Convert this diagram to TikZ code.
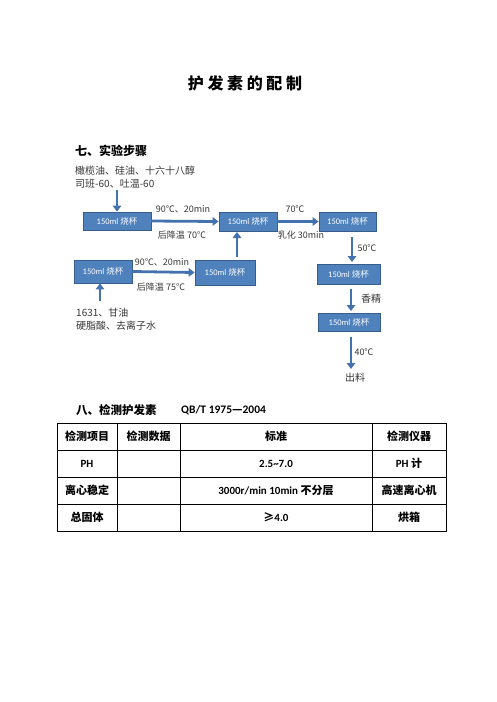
\documentclass[tikz,border=0pt]{standalone}
\usepackage{fontspec}
\setmainfont{Noto Sans CJK SC}
\newfontfamily\lat{Carlito}
\usetikzlibrary{arrows.meta}
\definecolor{boxfill}{RGB}{79,129,189}
\definecolor{boxedge}{RGB}{56,93,138}
\definecolor{arr}{RGB}{68,114,175}
\definecolor{txt}{RGB}{55,55,55}
\begin{document}
\begin{tikzpicture}[x=1pt,y=-1pt,
  beaker/.style={draw=boxedge, fill=boxfill, line width=0.8pt, text=white,
    font=\fontsize{8.5}{10}\selectfont, inner sep=0pt},
  flow/.style={draw=arr, line width=2.8pt, -{Triangle[length=6pt,width=8.5pt]}},
  lbl/.style={font=\fontsize{9}{11}\selectfont, text=txt, inner sep=0pt},
  note/.style={font=\fontsize{10}{12}\selectfont, text=txt, inner sep=0pt, anchor=west},
  head/.style={font=\fontsize{11.5}{13}\selectfont\bfseries, inner sep=0pt},
  cell/.style={font=\fontsize{11}{13}\selectfont\bfseries, inner sep=0pt},
  grid/.style={line width=0.8pt, draw=black}]
\useasboundingbox (0,0) rectangle (496,702);
\fill[white] (0,0) rectangle (496,702);

% title
\node[inner sep=0pt, font=\fontsize{16}{18}\selectfont\bfseries] (title) at (245,83) {护 发 素 的 配 制};

% section 7
\node[head, anchor=west, font=\fontsize{12}{14}\selectfont\bfseries] (s7) at (75,151) {七、实验步骤};
\node[note] (in1a) at (75,171) {橄榄油、硅油、十六十八醇};
\node[note] (in1b) at (75,184) {司班-60、吐温-60};
\coordinate (a1) at (117,190);

\node[beaker, minimum width=68pt, minimum height=18pt] (b1) at (117,221) {{\lat 150ml} 烧杯};
\node[beaker, minimum width=58pt, minimum height=19pt] (b2) at (248,221.5) {{\lat 150ml} 烧杯};
\node[beaker, minimum width=57pt, minimum height=19pt] (b3) at (347.5,221.5) {{\lat 150ml} 烧杯};
\node[beaker, minimum width=63pt, minimum height=20pt] (b4) at (348.5,274) {{\lat 150ml} 烧杯};
\node[beaker, minimum width=58pt, minimum height=23pt] (b5) at (103,271.5) {{\lat 150ml} 烧杯};
\node[beaker, minimum width=60pt, minimum height=25pt] (b6) at (225,272.5) {{\lat 150ml} 烧杯};
\node[beaker, minimum width=62pt, minimum height=18pt] (b7) at (349,322) {{\lat 150ml} 烧杯};

\coordinate (a6) at (237,257);
\coordinate (a2) at (237,232);
\coordinate (a5) at (100,301);
\coordinate (a7) at (351,369);

\draw[flow] (a1) -- (b1.north);
\draw[flow] (b1.east) -- (b2.west);
\draw[flow] (b2.east) -- (b3.west);
\draw[flow] (b3.south -| 352,0) ++(0,6) -- (352,262);
\draw[flow] (b4.south -| 351,0) ++(0,5) -- (351,311);
\draw[flow] (b7.south -| 351,0) ++(0,6) -- (a7);
\draw[flow] (a6) -- (a2);
\draw[flow] (b5.east) -- (b6.west);
\draw[flow] (a5) -- (b5.south -| a5);

\node[lbl] (l1) at (183,209) {90℃、20min};
\node[lbl] (l2) at (182,235) {后降温 70℃};
\node[lbl] (l3) at (295,209) {70℃};
\node[lbl] (l4) at (301,235) {乳化 30min};
\node[lbl] (l5) at (367,248) {50℃};
\node[lbl, font=\fontsize{10}{12}\selectfont] (l6) at (371,299) {香精};
\node[lbl] (l7) at (364,352) {40℃};
\node[lbl, font=\fontsize{10}{12}\selectfont] (out) at (355,378) {出料};
\node[lbl] (l8) at (162,262) {90℃、20min};
\node[lbl] (l9) at (161,287) {后降温 75℃};
\node[note] (in2a) at (76,313) {1631、甘油};
\node[note] (in2b) at (76,326) {硬脂酸、去离子水};

% section 8
\node[head, anchor=west] (s8) at (76,410) {八、检测护发素};
\node[head, anchor=west] (std) at (181,410) {{\lat QB/T 1975}—{\lat 2004}};

\draw[grid] (57,423) rectangle (446,531);
\foreach \yy in {450,477,504} \draw[grid] (57,\yy) -- (446,\yy);
\foreach \xx in {117,180,372} \draw[grid] (\xx,423) -- (\xx,531);

\node[cell] (h1) at (87,436.5) {检测项目};
\node[cell] (h2) at (148.5,436.5) {检测数据};
\node[cell] (h3) at (276,436.5) {标准};
\node[cell] (h4) at (409,436.5) {检测仪器};
\node[cell] (r1a) at (87,463.5) {\lat PH};
\node[cell] (r1c) at (276,463.5) {\lat 2.5\textasciitilde7.0};
\node[cell] (r1d) at (409,463.5) {{\lat PH} 计};
\node[cell] (r2a) at (87,490.5) {离心稳定};
\node[cell] (r2c) at (276,490.5) {{\lat 3000r/min 10min} 不分层};
\node[cell] (r2d) at (409,490.5) {高速离心机};
\node[cell] (r3a) at (87,517.5) {总固体};
\node[cell] (r3c) at (276,517.5) {≥{\lat 4.0}};
\node[cell] (r3d) at (409,517.5) {烘箱};
\end{tikzpicture}
\end{document}
